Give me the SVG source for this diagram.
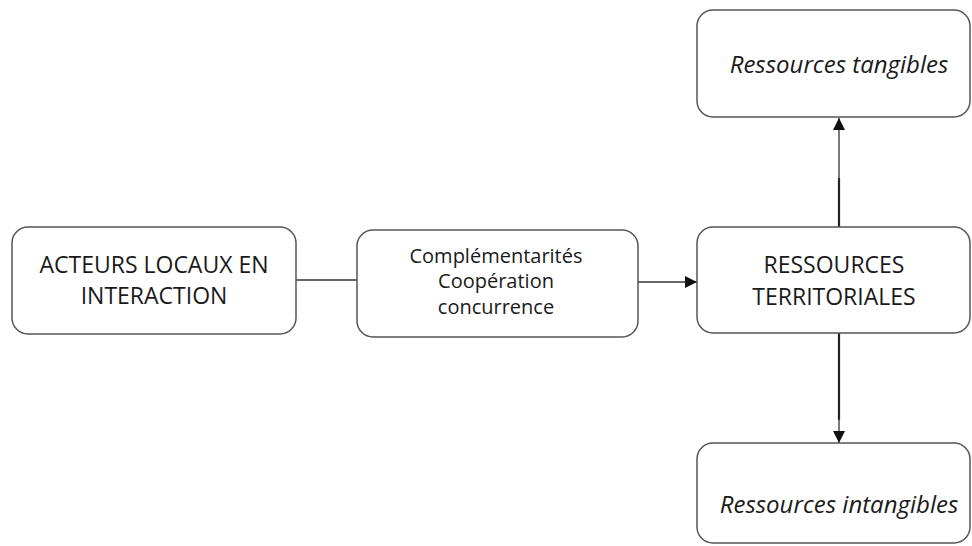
<svg xmlns="http://www.w3.org/2000/svg" width="972" height="546" viewBox="0 0 972 546">
<defs>
<style>
.box{fill:#fff;stroke:#555;stroke-width:1.5}
.t{font-family:"Open Sans","Liberation Sans",sans-serif;fill:#1a1a1a;text-anchor:middle}
.big{font-size:23px}
.mid{font-size:20px}
.it{font-size:24px;font-style:italic}
.c{stroke:#333;stroke-width:1.3;fill:none}
.ck{stroke:#222;stroke-width:2.2;fill:none}
</style>
<marker id="ah" viewBox="0 0 10 10" refX="10" refY="5" markerWidth="12" markerHeight="12" markerUnits="userSpaceOnUse" orient="auto">
<path d="M0,0 L10,5 L0,10 z" fill="#111"/>
</marker>
</defs>
<rect width="972" height="546" fill="#fff"/>
<g id="connectors">
<line class="c" x1="296" y1="280" x2="357" y2="280"/>
<line class="c" x1="638" y1="282" x2="697" y2="282" marker-end="url(#ah)"/>
<line class="ck" x1="839" y1="227" x2="839" y2="178"/>
<line class="c" x1="839" y1="180" x2="839" y2="118" marker-end="url(#ah)"/>
<line class="ck" x1="839" y1="333" x2="839" y2="420"/>
<line class="c" x1="839" y1="418" x2="839" y2="443" marker-end="url(#ah)"/>
</g>
<g id="acteurs">
<rect class="box" x="12" y="227" width="284" height="107" rx="16"/>
<text class="t big" x="154" y="273">ACTEURS LOCAUX EN</text>
<text class="t big" x="154" y="304">INTERACTION</text>
</g>
<g id="interactions">
<rect class="box" x="357" y="230" width="281" height="107" rx="16"/>
<text class="t mid" x="496" y="263">Complémentarités</text>
<text class="t mid" x="496" y="288">Coopération</text>
<text class="t mid" x="496" y="314">concurrence</text>
</g>
<g id="ressources">
<rect class="box" x="697" y="227" width="273" height="106" rx="16"/>
<text class="t big" x="834" y="273">RESSOURCES</text>
<text class="t big" x="834" y="305">TERRITORIALES</text>
</g>
<g id="tangibles">
<rect class="box" x="697" y="10" width="273" height="107" rx="16"/>
<text class="t it" x="839" y="73">Ressources tangibles</text>
</g>
<g id="intangibles">
<rect class="box" x="697" y="443" width="273" height="100" rx="16"/>
<text class="t it" x="839" y="513">Ressources intangibles</text>
</g>
</svg>
